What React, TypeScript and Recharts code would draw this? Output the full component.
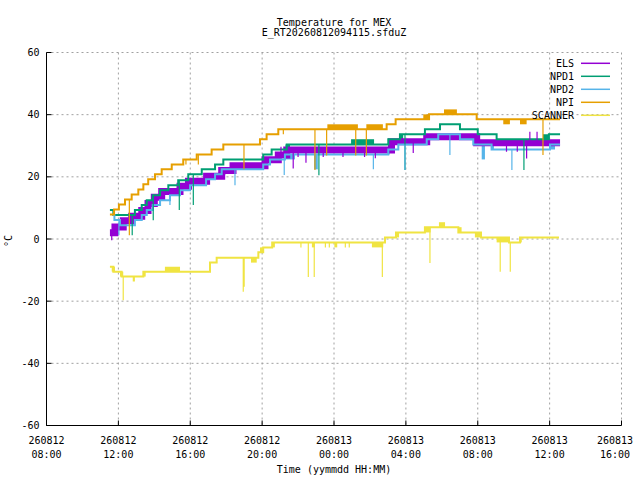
import React from 'react';
import { LineChart, Line, XAxis, YAxis, CartesianGrid, ReferenceArea, Legend, Label } from 'recharts';

// hours after 260812 08:00
const xTicks = [0, 4, 8, 12, 16, 20, 24, 28, 32];
const xTickDates = ['260812', '260812', '260812', '260812', '260813', '260813', '260813', '260813', '260813'];
const xTickTimes = ['08:00', '12:00', '16:00', '20:00', '00:00', '04:00', '08:00', '12:00', '16:00'];
const yTicks = [-60, -40, -20, 0, 20, 40, 60];

type Band = [number, number, number, number]; // t0, t1, low, high

const elsTime = [3.53, 3.81, 4.27, 4.74, 5.3, 5.65, 6.0, 6.41, 7.43, 7.9, 8.91, 9.75, 10.38, 12.16, 12.9, 13.37, 19.2, 21.16, 23.94, 28.58];
const elsTemp = [2.0, 3.9, 5.9, 7.3, 9.2, 11.4, 13.4, 15.3, 17.0, 18.6, 20.2, 22.0, 23.6, 25.5, 27.0, 28.6, 31.3, 32.9, 31.0, 31.0];
const elsSpikeTime = [3.63, 13.05, 13.73, 14.0, 14.44, 15.4, 16.5, 17.7, 18.3, 20.41, 25.6, 26.2, 26.72, 26.9, 27.3];
const elsSpikeTemp = [-0.4, 29.7, 22.7, 26.4, 24.5, 26.4, 26.4, 26.4, 26.0, 27.7, 28.1, 28.1, 25.9, 34.5, 34.5];
const elsBands: Band[] = [];

const npd1Time = [3.53, 3.72, 4.92, 5.3, 5.58, 5.91, 6.32, 6.78, 7.33, 7.89, 8.64, 9.38, 9.84, 12.06, 12.53, 13.37, 19.02, 19.67, 21.06, 21.9, 23.01, 24.0, 25.05, 27.96, 28.58];
const npd1Temp = [9.3, 7.7, 9.3, 10.9, 12.5, 14.1, 15.7, 17.3, 18.9, 20.8, 22.4, 24.0, 25.6, 27.2, 28.8, 30.4, 32.1, 33.7, 35.3, 36.9, 35.3, 33.7, 32.1, 33.7, 33.7];
const npd1SpikeTime = [4.77, 5.94, 7.39, 8.17, 15.16, 19.95, 26.57];
const npd1SpikeTemp = [1.2, 6.0, 9.3, 10.9, 20.5, 22.2, 22.2];
const npd1Bands: Band[] = [[13.3, 13.55, 28.8, 30.4], [16.95, 18.23, 30.4, 32.1], [19.67, 19.85, 32.1, 33.7], [27.63, 27.96, 32.1, 33.7]];

const npd2Time = [3.7, 3.78, 4.09, 4.92, 5.3, 5.58, 5.91, 6.32, 6.87, 7.43, 7.99, 8.88, 9.38, 9.75, 12.06, 12.44, 13.27, 19.02, 19.58, 21.16, 21.8, 23.01, 23.75, 24.77, 28.02, 28.58];
const npd2Temp = [7.7, 6.1, 4.4, 6.1, 7.7, 9.3, 10.9, 12.5, 14.1, 15.7, 17.3, 19.2, 20.8, 22.4, 24.0, 25.6, 27.2, 28.8, 30.4, 32.1, 33.7, 32.1, 30.4, 28.8, 30.4, 30.4];
const npd2SpikeTime = [4.03, 6.87, 10.49, 13.23, 18.19, 19.95, 22.45, 25.9];
const npd2SpikeTemp = [1.2, 10.9, 17.3, 20.6, 22.4, 22.2, 27.0, 22.2];
const npd2Bands: Band[] = [[4.74, 4.92, 4.4, 6.1], [9.75, 9.99, 20.8, 22.4], [13.27, 13.83, 25.6, 27.2], [14.89, 15.1, 22.4, 27.2], [19.02, 19.1, 27.2, 28.8], [21.7, 21.9, 32.1, 33.7], [23.75, 23.9, 30.4, 32.1], [24.22, 24.4, 25.6, 30.4], [24.75, 24.9, 28.8, 30.4], [28.02, 28.3, 28.8, 30.4]];

const npiTime = [3.53, 3.76, 4.03, 4.37, 4.74, 5.11, 5.39, 5.66, 6.04, 6.41, 6.97, 7.61, 8.36, 9.19, 9.84, 11.88, 12.25, 12.9, 18.93, 19.43, 21.29, 23.94, 28.58];
const npiTemp = [7.9, 9.5, 11.1, 12.7, 14.3, 15.9, 17.6, 19.2, 20.8, 22.4, 24.0, 25.6, 27.2, 28.8, 30.4, 32.1, 33.7, 35.3, 36.9, 38.5, 40.1, 38.5, 38.5];
const npiSpikeTime = [4.61, 7.76, 8.45, 10.99, 13.18, 14.94, 15.59, 17.21, 17.8, 27.63];
const npiSpikeTemp = [1.2, 24.0, 24.0, 22.4, 33.7, 22.2, 26.9, 26.9, 26.9, 27.0];
const npiBands: Band[] = [[15.63, 17.33, 35.3, 36.9], [17.8, 18.72, 35.3, 36.9], [20.97, 21.29, 38.5, 40.1], [22.12, 22.84, 40.1, 41.7], [25.42, 25.79, 36.9, 38.5], [26.35, 26.72, 36.9, 38.5]];

const scanTime = [3.53, 3.72, 4.18, 5.39, 9.1, 9.47, 11.79, 12.06, 12.56, 18.84, 19.45, 21.06, 22.92, 24.18, 25.74, 26.35, 28.52];
const scanTemp = [-8.9, -10.5, -12.1, -10.5, -7.6, -6.0, -4.3, -2.7, -1.1, 0.5, 2.1, 3.8, 2.1, 0.5, -1.1, 0.5, 0.5];
const scanSpikeTime = [4.27, 10.95, 11.0, 14.16, 14.57, 14.9, 15.52, 15.74, 16.63, 16.85, 18.69, 21.34, 25.25, 25.81];
const scanSpikeTemp = [-19.7, -17.0, -15.4, -2.7, -12.2, -12.2, -2.7, -2.7, -2.7, -2.7, -12.2, -7.7, -10.5, -10.5];
const scanBands: Band[] = [[3.63, 3.81, -10.5, -8.9], [4.09, 4.27, -12.1, -10.5], [4.8, 4.92, -13.7, -12.1], [5.39, 5.52, -12.1, -10.5], [6.59, 7.43, -10.5, -8.9], [11.38, 11.7, -7.6, -6.0], [11.88, 12.06, -4.3, -2.7], [12.56, 12.71, -2.7, -1.1], [14.77, 14.93, -2.7, -1.1], [16.02, 16.18, -2.7, -1.1], [18.11, 18.74, -2.7, -1.1], [19.4, 19.62, 0.5, 2.1], [21.06, 21.38, 2.1, 3.8], [21.84, 22.18, 3.8, 5.4], [22.92, 23.1, 2.1, 3.8], [23.84, 24.18, 0.5, 2.1], [25.05, 25.74, -1.1, 0.5], [26.3, 26.45, -1.1, 0.5]];

const seriesNames = ['ELS', 'NPD1', 'NPD2', 'NPI', 'SCANNER'];
const seriesColors = ['#9400d3', '#009e73', '#56b4e9', '#e69f00', '#f0e442'];

const titleLines = ['Temperature for MEX', 'E_RT20260812094115.sfduZ'];
const xTitle = 'Time (yymmdd HH:MM)';
const yTitle = '°C';

const FONT = '"DejaVu Sans Mono", "Liberation Mono", monospace';
const CHART_W = 640;
const CHART_H = 480;
const MARGIN = { top: 52.5, right: 18.5, bottom: 24.5, left: 6.5 };

function stepRows(times: number[], temps: number[]) {
  return times.map((t, i) => ({ t, v: temps[i] }));
}

function valueAt(times: number[], temps: number[], t: number) {
  let v = temps[0];
  for (let i = 0; i < times.length; i++) if (times[i] <= t) v = temps[i];
  return v;
}

// each spike is a vertical segment from the step level, broken by a null row
function spikeRows(times: number[], temps: number[], sT: number[], sV: number[]) {
  const rows: { t: number; v: number | null }[] = [];
  sT.forEach((t, i) => {
    rows.push({ t, v: valueAt(times, temps, t) }, { t, v: sV[i] }, { t, v: null });
  });
  return rows;
}

const series = [
  { time: elsTime, temp: elsTemp, sT: elsSpikeTime, sV: elsSpikeTemp, bands: elsBands, width: 7 },
  { time: npd1Time, temp: npd1Temp, sT: npd1SpikeTime, sV: npd1SpikeTemp, bands: npd1Bands, width: 2 },
  { time: npd2Time, temp: npd2Temp, sT: npd2SpikeTime, sV: npd2SpikeTemp, bands: npd2Bands, width: 2 },
  { time: npiTime, temp: npiTemp, sT: npiSpikeTime, sV: npiSpikeTemp, bands: npiBands, width: 2 },
  { time: scanTime, temp: scanTemp, sT: scanSpikeTime, sV: scanSpikeTemp, bands: scanBands, width: 2 },
];

const BottomTick = (props: any) => {
  const { x, y, payload } = props;
  const i = xTicks.indexOf(payload.value);
  const dx = payload.value === 32 ? -6.5 : 0;
  return (
    <g>
      <line x1={x} x2={x} y1={y} y2={y - 5} stroke="#000" />
      <text x={x + dx} y={y + 18} textAnchor="middle" fontFamily={FONT} fontSize={10} fill="#000">{xTickDates[i]}</text>
      <text x={x + dx} y={y + 32} textAnchor="middle" fontFamily={FONT} fontSize={10} fill="#000">{xTickTimes[i]}</text>
    </g>
  );
};

const TopTick = (props: any) => {
  const { x, y } = props;
  return <line x1={x} x2={x} y1={y} y2={y + 5} stroke="#000" />;
};

const LeftTick = (props: any) => {
  const { x, y, payload } = props;
  return (
    <g>
      <line x1={x} x2={x + 5} y1={y} y2={y} stroke="#000" />
      <text x={x - 7} y={y + 3.5} textAnchor="end" fontFamily={FONT} fontSize={10} fill="#000">{payload.value}</text>
    </g>
  );
};

const RightTick = (props: any) => {
  const { x, y } = props;
  return <line x1={x} x2={x - 5} y1={y} y2={y} stroke="#000" />;
};

const XTitle = (props: any) => {
  const { x, y, width } = props.viewBox;
  return (
    <text x={x + width / 2} y={y + 47.5} textAnchor="middle" fontFamily={FONT} fontSize={10} fill="#000">
      {xTitle}
    </text>
  );
};

// y-axis title, plus the chart title above the plot (centred over the plot area)
const YTitle = (props: any) => {
  const { x, y, width, height } = props.viewBox;
  const lx = x + 5.5;
  const ly = y + height / 2 + 2;
  const plotLeft = x + width;
  const cx = (plotLeft + CHART_W - MARGIN.right) / 2;
  return (
    <g fontFamily={FONT} fontSize={10} fill="#000">
      <text x={lx} y={ly} transform={`rotate(-90 ${lx} ${ly})`} textAnchor="middle">
        {yTitle}
      </text>
      <text x={cx} y={y - 27} textAnchor="middle">{titleLines[0]}</text>
      <text x={cx} y={y - 16.5} textAnchor="middle">{titleLines[1]}</text>
    </g>
  );
};

const renderLegend = () => (
  <svg width={140} height={70}>
    {seriesNames.map((n, i) => {
      const cy = 7.3 + 13 * i;
      return (
        <g key={n}>
          <text x={94} y={cy + 3.6} textAnchor="end" fontFamily={FONT} fontSize={10} fill="#000">{n}</text>
          <line x1={101} x2={130} y1={cy} y2={cy} stroke={seriesColors[i]} strokeWidth={1.5} />
        </g>
      );
    })}
  </svg>
);

export default function App() {
  return (
    <div style={{ position: 'absolute', left: 0, top: 0, width: CHART_W, height: CHART_H, background: '#fff' }}>
      <LineChart width={CHART_W} height={CHART_H} margin={MARGIN}>
        <CartesianGrid stroke="#a0a0a0" strokeDasharray="2 3" />
        <XAxis
          dataKey="t"
          type="number"
          domain={[0, 32]}
          ticks={xTicks}
          allowDataOverflow
          height={30}
          tickSize={0}
          tickMargin={0}
          tickLine={false}
          axisLine={{ stroke: '#000' }}
          tick={<BottomTick />}
          interval={0}
        >
          <Label content={<XTitle />} />
        </XAxis>
        <XAxis
          xAxisId="top"
          orientation="top"
          type="number"
          domain={[0, 32]}
          ticks={xTicks}
          allowDataOverflow
          height={0}
          tickSize={0}
          tickMargin={0}
          tickLine={false}
          axisLine={{ stroke: '#000' }}
          tick={<TopTick />}
          interval={0}
        />
        <YAxis
          type="number"
          domain={[-60, 60]}
          ticks={yTicks}
          allowDataOverflow
          width={40}
          tickSize={0}
          tickMargin={0}
          tickLine={false}
          axisLine={{ stroke: '#000' }}
          tick={<LeftTick />}
          interval={0}
        >
          <Label content={<YTitle />} />
        </YAxis>
        <YAxis
          yAxisId="right"
          orientation="right"
          type="number"
          domain={[-60, 60]}
          ticks={yTicks}
          allowDataOverflow
          width={0}
          tickSize={0}
          tickMargin={0}
          tickLine={false}
          axisLine={{ stroke: '#000' }}
          tick={<RightTick />}
          interval={0}
        />
        {series.map((s, si) =>
          s.bands.map((b, bi) => (
            <ReferenceArea
              key={`band-${si}-${bi}`}
              x1={b[0]}
              x2={b[1]}
              y1={b[2]}
              y2={b[3]}
              fill={seriesColors[si]}
              fillOpacity={1}
              stroke="none"
              ifOverflow="visible"
            />
          ))
        )}
        {series.map((s, si) => (
          <Line
            key={`line-${si}`}
            name={seriesNames[si]}
            data={stepRows(s.time, s.temp)}
            dataKey="v"
            type="stepAfter"
            stroke={seriesColors[si]}
            strokeWidth={s.width}
            dot={false}
            activeDot={false}
            isAnimationActive={false}
          />
        ))}
        {series.map((s, si) => (
          <Line
            key={`spike-${si}`}
            data={spikeRows(s.time, s.temp, s.sT, s.sV)}
            dataKey="v"
            type="linear"
            stroke={seriesColors[si]}
            strokeWidth={1.2}
            dot={false}
            activeDot={false}
            legendType="none"
            connectNulls={false}
            isAnimationActive={false}
          />
        ))}
        <Legend
          layout="vertical"
          align="center"
          verticalAlign="middle"
          wrapperStyle={{ left: 480, top: 56, width: 140, height: 70 }}
          content={renderLegend}
        />
      </LineChart>
    </div>
  );
}
